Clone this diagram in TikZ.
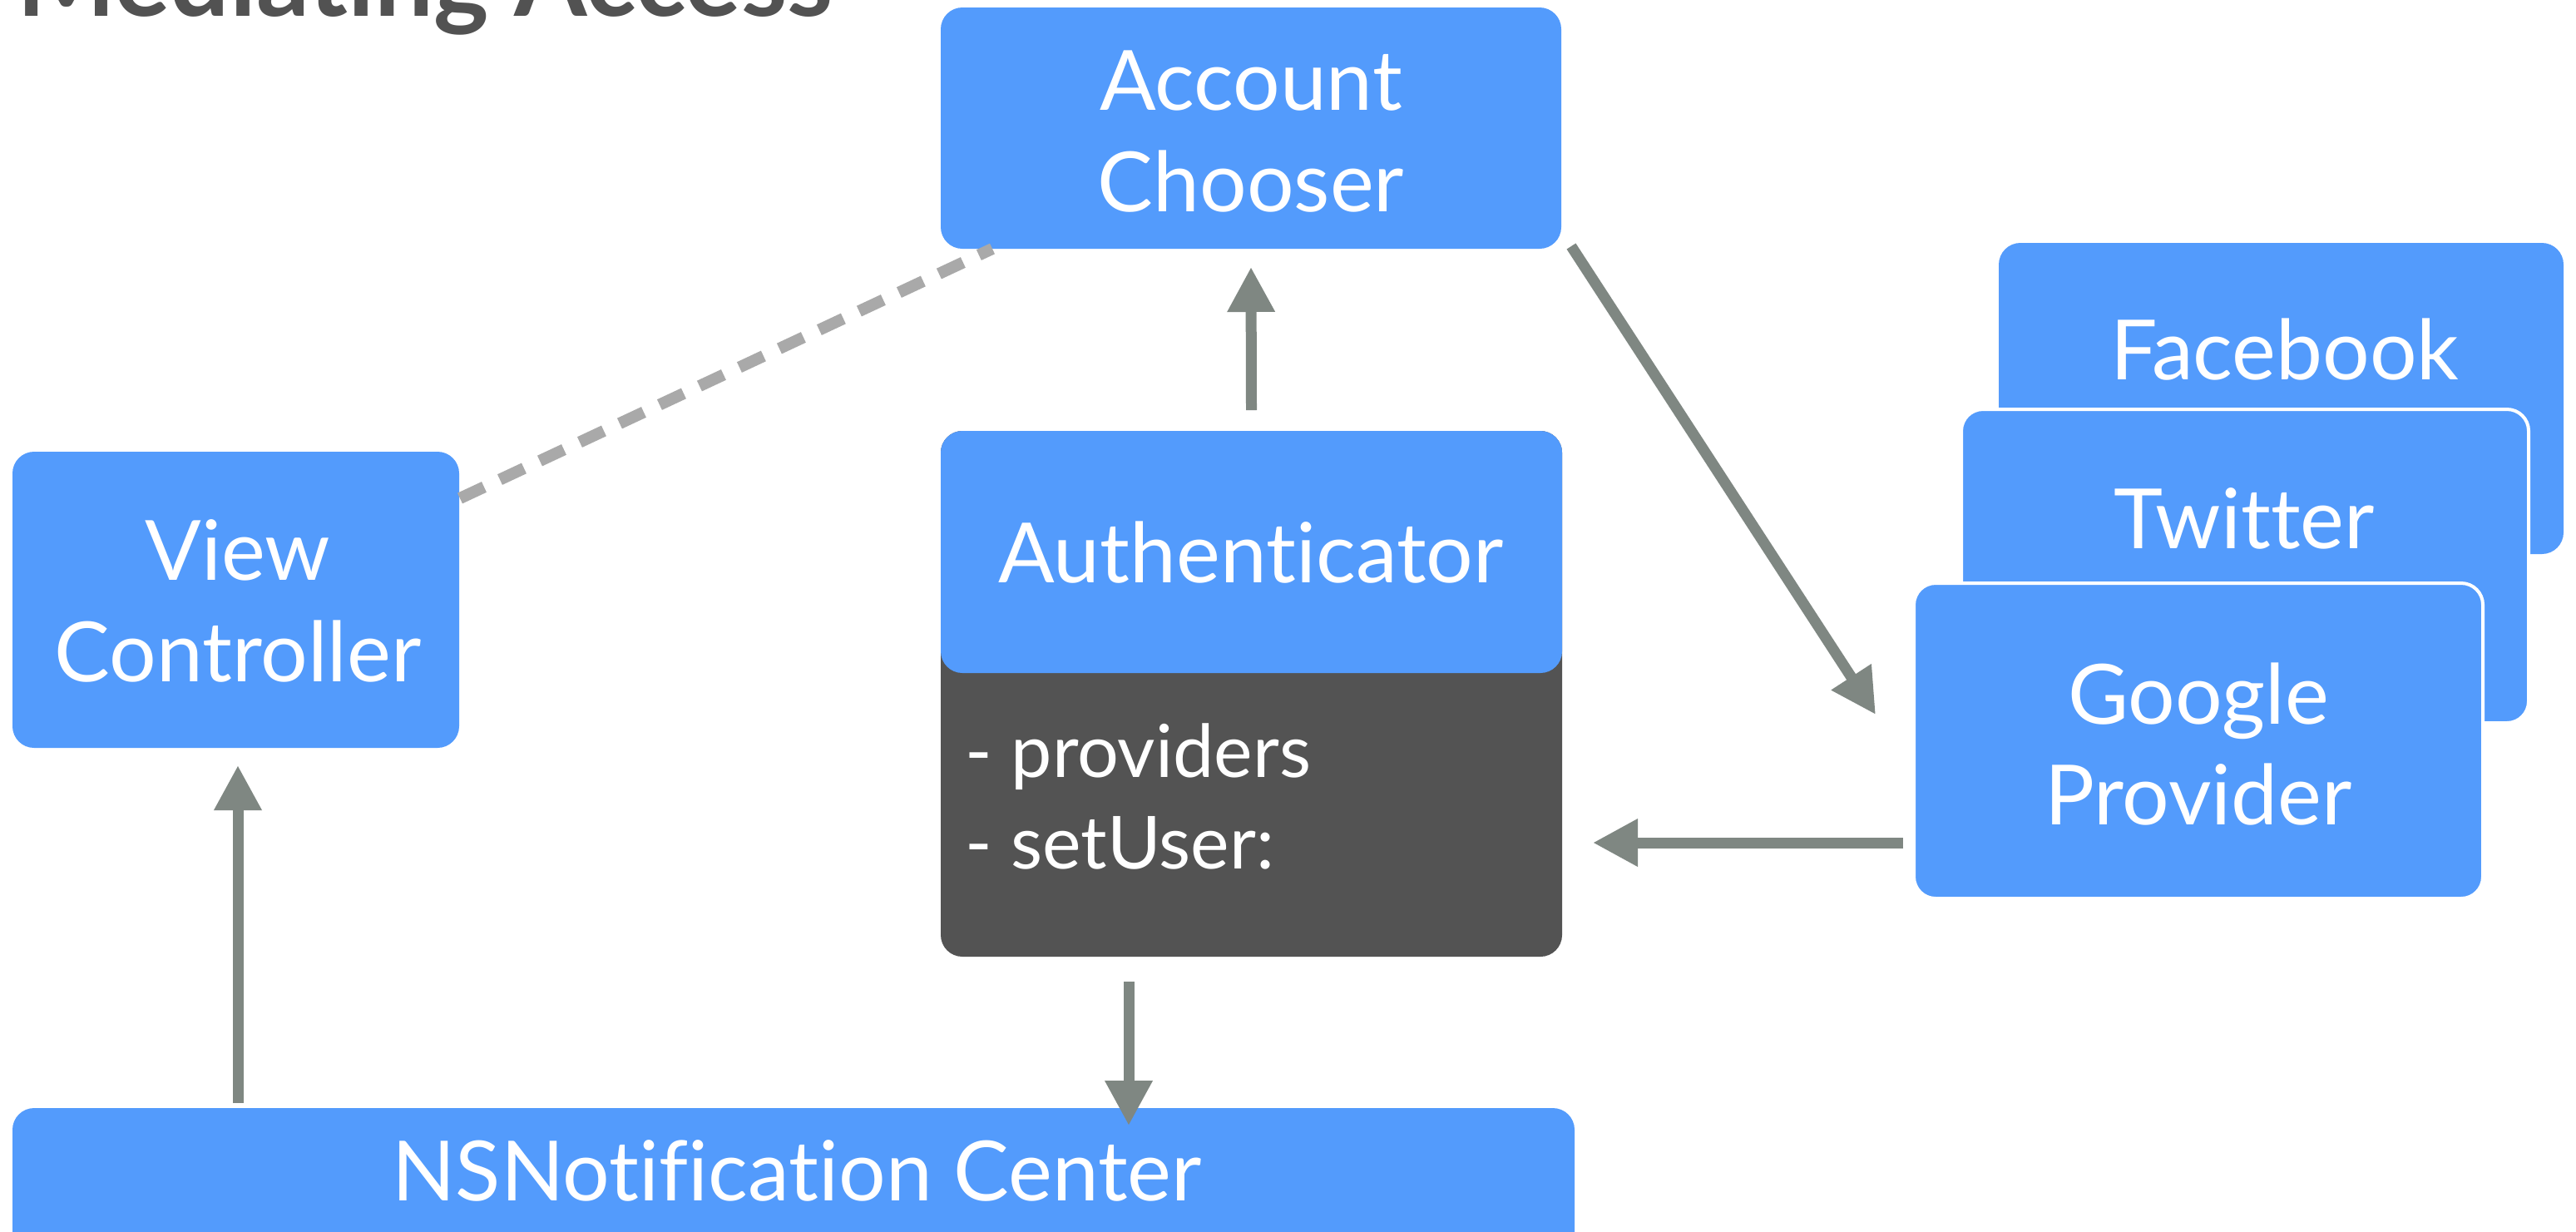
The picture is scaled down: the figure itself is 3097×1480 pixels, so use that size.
\documentclass[tikz,border=0pt]{standalone}
\usepackage{fontspec}
\setmainfont{Lato}[RawFeature={-liga;-dlig}]
\usetikzlibrary{calc,arrows.meta}
\definecolor{boxblue}{HTML}{539BFC}
\definecolor{darkbody}{HTML}{535353}
\definecolor{arrowgray}{HTML}{7F8782}
\definecolor{dashgray}{HTML}{A9A9A9}
\definecolor{titlegray}{HTML}{525252}
\begin{document}
\begin{tikzpicture}[x=0.5pt,y=-0.5pt,
  box/.style={fill=boxblue, rounded corners=13pt, inner sep=0pt, outer sep=0pt, anchor=north west},
  edged/.style={box, draw=white, line width=2pt},
  lbl/.style={text=white, inner sep=0pt, anchor=base, font=\fontsize{50}{60}\selectfont},
  body/.style={text=white, inner sep=0pt, anchor=base west, font=\fontsize{44}{52}\selectfont},
  arr/.style={draw=arrowgray, line width=6.5pt, -{Triangle[length=27pt,width=27pt]}},
  dsh/.style={draw=dashgray, line width=7pt, dash pattern=on 16pt off 10.5pt}]
\useasboundingbox (0,0) rectangle (3097,1480);
\clip (0,0) rectangle (3097,1480);
\fill[white] (0,0) rectangle (3097,1480);

% title
\node[anchor=base west, inner sep=0pt, text=titlegray, font=\fontsize{63}{70}\selectfont\bfseries] (title) at (20,19) {Mediating Access};

% boxes
\node[box, minimum width=373pt, minimum height=145pt] (acct) at (1131,9) {};
\node[box, minimum width=268.5pt, minimum height=178pt] (vc) at (15,543) {};
\node[box, fill=darkbody, minimum width=373.5pt, minimum height=316pt] (authbody) at (1131,518) {};
\node[box, minimum width=373.5pt, minimum height=145.5pt] (auth) at (1131,518) {};
\node[box, minimum width=939pt, minimum height=110pt] (ns) at (15,1332) {};
\node[box, minimum width=339.5pt, minimum height=187pt] (fb) at (2403,292) {};
\node[edged, minimum width=341pt, minimum height=188.5pt] (tw) at (2358,492) {};
\node[edged, minimum width=342pt, minimum height=189.5pt] (goog) at (2301,701) {};

% dashed link
\draw[dsh] ($(vc.north east)+(1,56)$) -- ($(acct.south west)+(62,0)$);

% labels
\node[lbl] (acct1) at (1504,132) {Account};
\node[lbl] (acct2) at (1504,254) {Chooser};
\node[lbl] (vc1) at (286,697) {View};
\node[lbl] (vc2) at (286,819) {Controller};
\node[lbl] (auth1) at (1504,700) {Authenticator};
\node[body] (b1) at (1160,934) {- providers};
\node[body] (b2) at (1160,1044) {- setUser:};
\node[lbl] (ns1) at (958,1443) {NSNotification Center};
\node[lbl] (fb1) at (2747,456) {Facebook};
\node[lbl] (tw1) at (2698,659) {Twitter};
\node[lbl] (g1) at (2643,870) {Google};
\node[lbl] (g2) at (2643,991) {Provider};

% connectors
\draw[arr] ($(auth.north)+(0,-25)$) -- ($(acct.south)+(0,22)$);
\draw[arr] ($(acct.south east)+(12,-3)$) -- ($(goog.north west)+(-46,158)$);
\draw[arr] ($(goog.south west)+(-13,-67)$) -- ($(authbody.south east)+(37,-137)$);
\draw[arr] ($(authbody.south west)+(226,30)$) -- ($(ns.north west)+(1342,21)$);
\draw[arr] ($(ns.north west)+(271,-6)$) -- ($(vc.south)+(2.5,21)$);
\end{tikzpicture}
\end{document}
